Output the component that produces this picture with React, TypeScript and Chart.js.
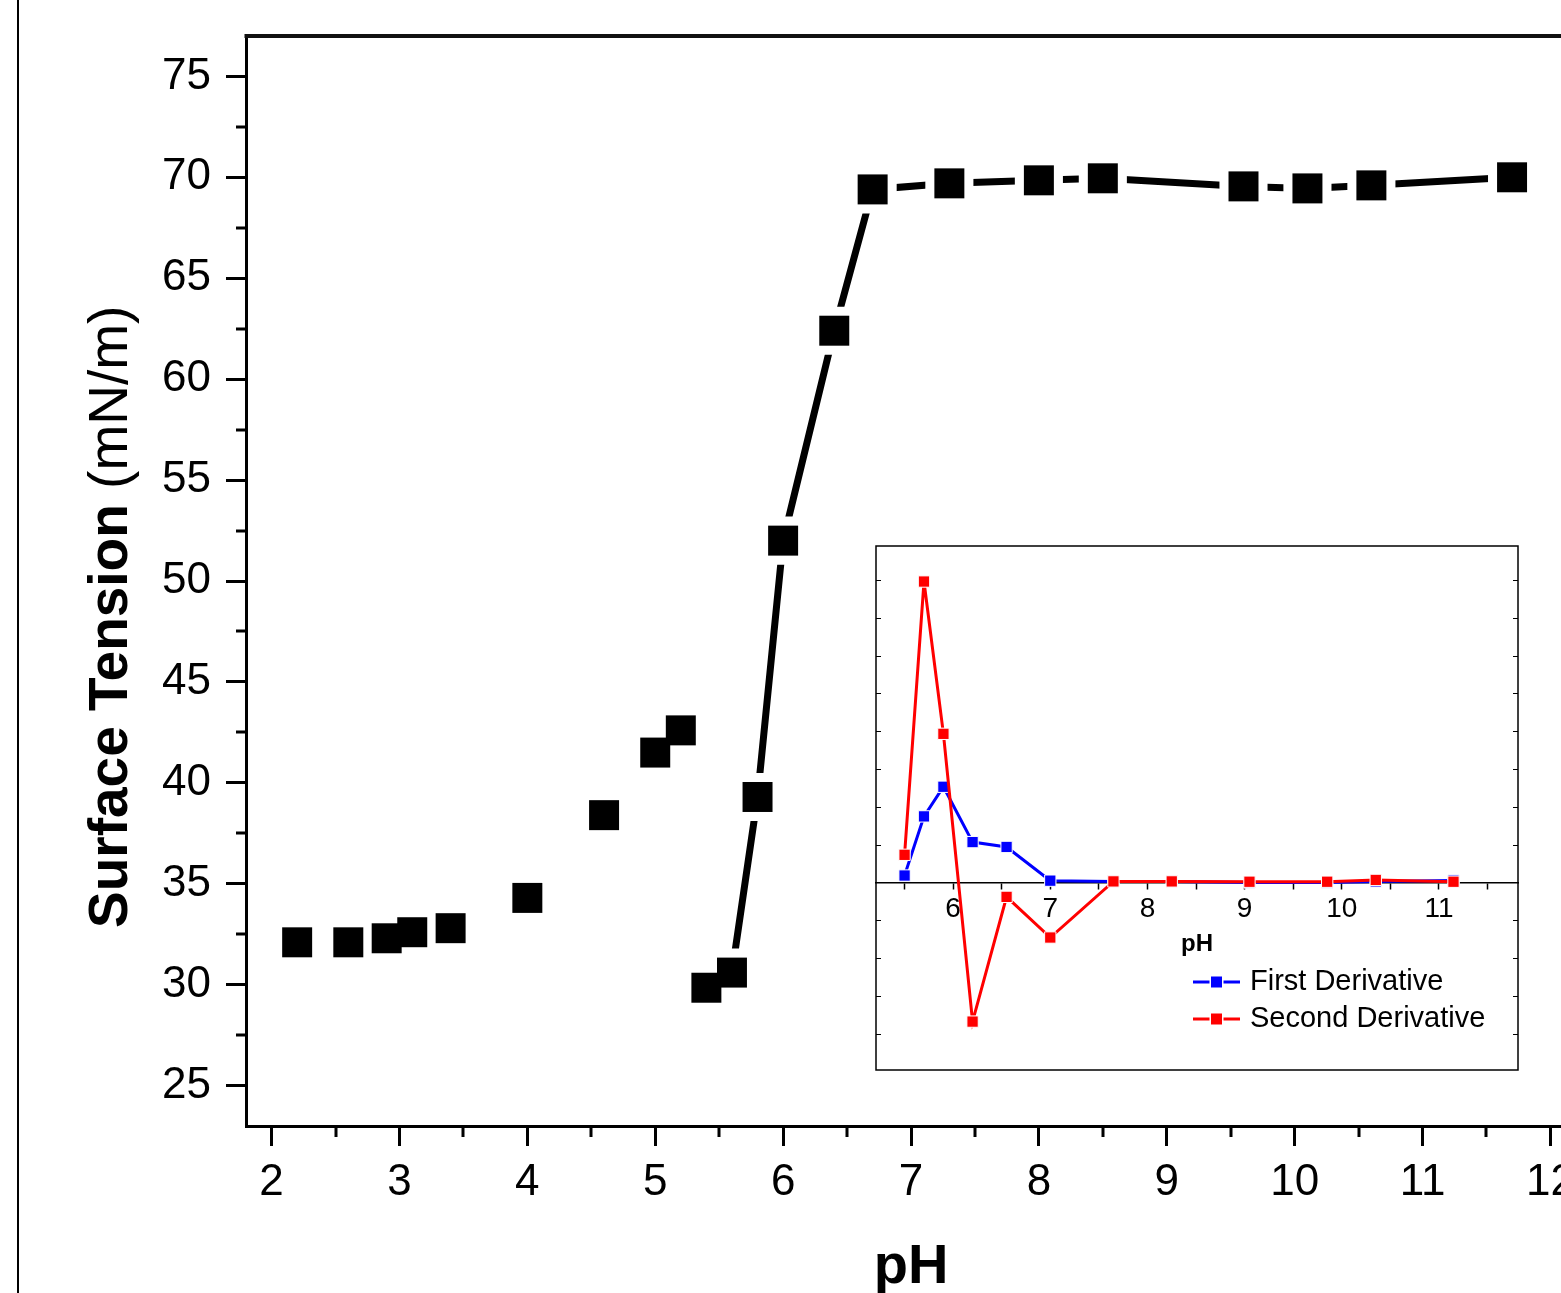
import React, { useEffect, useRef } from 'react';
import { Chart, registerables } from 'chart.js';

Chart.register(...registerables);

const FONT = "'Liberation Sans', Arial, Helvetica, sans-serif";

// ---- Main chart data ----
const phValues = [2.2, 2.6, 2.9, 3.1, 3.4, 4.0, 4.6, 5.0, 5.2, 5.4, 5.6, 5.8, 6.0, 6.4, 6.7, 7.3, 8.0, 8.5, 9.6, 10.1, 10.6, 11.7];
const surfaceTension = [32.1, 32.1, 32.3, 32.6, 32.8, 34.3, 38.4, 41.5, 42.6, 29.85, 30.6, 39.3, 52.0, 62.4, 69.4, 69.7, 69.85, 69.95, 69.55, 69.45, 69.6, 70.0];
const firstConnectedIndex = 10; // line drawn from pH 5.6 onward

const xMinorTicks = [2.5, 3.5, 4.5, 5.5, 6.5, 7.5, 8.5, 9.5, 10.5, 11.5];
const yMinorTicks = [27.5, 32.5, 37.5, 42.5, 47.5, 52.5, 57.5, 62.5, 67.5, 72.5];

const xAxisTitle = 'pH';
const yAxisTitleBold = 'Surface Tension';
const yAxisTitleUnit = ' (mN/m)';

// ---- Inset data ----
const derivPh = [5.5, 5.7, 5.9, 6.2, 6.55, 7.0, 7.65, 8.25, 9.05, 9.85, 10.35, 11.15];
const firstDerivative = [4.6, 43.7, 63.3, 26.7, 23.5, 1.2, 0.7, 0.7, 0.0, 0.0, 0.7, 1.3];
const secondDerivative = [18.3, 199, 98.3, -92, -9.5, -36.4, 0.7, 0.7, 0.5, 0.5, 1.7, 0.5];
const insetYTicks = [-100, -75, -50, -25, 0, 25, 50, 75, 100, 125, 150, 175, 200];

const zeroPadding = (s: any) => {
  s.paddingLeft = 0;
  s.paddingRight = 0;
  s.paddingTop = 0;
  s.paddingBottom = 0;
};

const mainDecor = {
  id: 'mainDecor',
  beforeDraw(chart: any) {
    const ctx = chart.ctx;
    ctx.save();
    ctx.fillStyle = '#fff';
    ctx.fillRect(0, 0, chart.width, chart.height);
    ctx.restore();
  },
  afterDraw(chart: any) {
    const ctx = chart.ctx;
    const area = chart.chartArea;
    const xs = chart.scales.x;
    const ys = chart.scales.y;
    ctx.save();
    ctx.strokeStyle = '#000';
    ctx.lineWidth = 3;
    ctx.beginPath();
    xMinorTicks.forEach((v) => {
      const px = Math.round(xs.getPixelForValue(v));
      ctx.moveTo(px, area.bottom);
      ctx.lineTo(px, area.bottom + 11);
    });
    yMinorTicks.forEach((v) => {
      const py = Math.round(ys.getPixelForValue(v));
      ctx.moveTo(area.left - 10, py);
      ctx.lineTo(area.left, py);
    });
    ctx.stroke();
    // top frame
    ctx.lineWidth = 4;
    ctx.strokeStyle = '#111';
    ctx.beginPath();
    ctx.moveTo(area.left - 1.5, area.top);
    ctx.lineTo(area.right, area.top);
    ctx.stroke();
    // right frame
    ctx.beginPath();
    ctx.moveTo(area.right, area.top);
    ctx.lineTo(area.right, area.bottom);
    ctx.stroke();
    // figure border at left
    ctx.lineWidth = 2;
    ctx.strokeStyle = '#000';
    ctx.beginPath();
    ctx.moveTo(18, 0);
    ctx.lineTo(18, chart.height);
    ctx.stroke();

    // x title
    ctx.fillStyle = '#000';
    ctx.font = `bold 56px ${FONT}`;
    ctx.textAlign = 'center';
    ctx.textBaseline = 'alphabetic';
    ctx.fillText(xAxisTitle, (area.left + area.right) / 2, 1283);

    // y title (rotated)
    ctx.translate(127, 928);
    ctx.rotate(-Math.PI / 2);
    ctx.textAlign = 'left';
    ctx.font = `bold 55px ${FONT}`;
    ctx.fillText(yAxisTitleBold, 0, 0);
    const w = ctx.measureText(yAxisTitleBold).width;
    ctx.font = `55px ${FONT}`;
    ctx.fillText(yAxisTitleUnit, w, 0);
    ctx.restore();
  },
};

const insetDecor = {
  id: 'insetDecor',
  beforeDraw(chart: any) {
    const ctx = chart.ctx;
    ctx.save();
    ctx.fillStyle = '#fff';
    ctx.fillRect(0, 0, chart.width, chart.height);
    ctx.restore();
  },
  afterDraw(chart: any) {
    const ctx = chart.ctx;
    const area = chart.chartArea;
    const ys = chart.scales.y;
    ctx.save();
    ctx.strokeStyle = '#000';
    ctx.lineWidth = 1.5;
    ctx.strokeRect(area.left, area.top, area.right - area.left, area.bottom - area.top);
    ctx.lineWidth = 1;
    ctx.beginPath();
    insetYTicks.forEach((v) => {
      const py = Math.round(ys.getPixelForValue(v)) + 0.5;
      ctx.moveTo(area.left, py);
      ctx.lineTo(area.left + 5, py);
      ctx.moveTo(area.right - 5, py);
      ctx.lineTo(area.right, py);
    });
    ctx.stroke();

    // legend
    const ds = chart.data.datasets;
    const order = [1, 0];
    order.forEach((idx, i) => {
      const d = ds[idx];
      const y = area.top + 436 + i * 37;
      const x0 = area.left + 317;
      const x1 = area.left + 364;
      ctx.strokeStyle = d.borderColor;
      ctx.lineWidth = 3;
      ctx.beginPath();
      ctx.moveTo(x0, y);
      ctx.lineTo(x1, y);
      ctx.stroke();
      const mx = (x0 + x1) / 2;
      ctx.fillStyle = '#fff';
      ctx.fillRect(mx - 7, y - 7, 14, 14);
      ctx.fillStyle = d.borderColor;
      ctx.fillRect(mx - 5.5, y - 5.5, 11, 11);
      ctx.fillStyle = '#000';
      ctx.font = `29px ${FONT}`;
      ctx.textAlign = 'left';
      ctx.textBaseline = 'middle';
      ctx.fillText(d.label, area.left + 374, y);
    });
    ctx.restore();
  },
};

export default function App() {
  const mainRef = useRef<HTMLCanvasElement>(null);
  const insetRef = useRef<HTMLCanvasElement>(null);

  useEffect(() => {
    const points = phValues.map((x, i) => ({ x, y: surfaceTension[i] }));
    const main = new Chart(mainRef.current as HTMLCanvasElement, {
      type: 'line',
      data: {
        datasets: [
          {
            label: 'Surface Tension',
            data: points,
            showLine: false,
            pointStyle: 'rect',
            pointRadius: 21.2,
            pointHoverRadius: 21.2,
            pointBackgroundColor: '#000',
            pointBorderWidth: 0,
            borderColor: '#000',
            backgroundColor: '#000',
          },
          {
            label: 'line',
            data: points,
            borderColor: '#000',
            borderWidth: 7,
            tension: 0,
            pointStyle: 'rect',
            pointRadius: (c: any) => (c.dataIndex < firstConnectedIndex ? 0 : 34),
            pointHoverRadius: (c: any) => (c.dataIndex < firstConnectedIndex ? 0 : 34),
            pointBackgroundColor: '#fff',
            pointBorderWidth: 0,
            segment: {
              borderColor: (c: any) => (c.p0DataIndex < firstConnectedIndex ? 'rgba(0,0,0,0)' : '#000'),
            },
          } as any,
        ],
      },
      options: {
        responsive: false,
        animation: false,
        devicePixelRatio: 1,
        events: [],
        layout: { autoPadding: false, padding: { top: 36, right: 24, left: 0, bottom: 0 } },
        plugins: { legend: { display: false }, tooltip: { enabled: false } },
        scales: {
          x: {
            type: 'linear',
            min: 1.8,
            max: 12.2,
            ticks: {
              stepSize: 1,
              includeBounds: false,
              autoSkip: false,
              maxRotation: 0,
              padding: 10,
              color: '#000',
              font: { family: FONT, size: 44 },
            },
            grid: { drawOnChartArea: false, drawTicks: true, tickLength: 20, tickWidth: 3, tickColor: '#000' },
            border: { display: true, color: '#000', width: 3 },
            afterFit: (s: any) => {
              s.height = 167;
              zeroPadding(s);
            },
          },
          y: {
            type: 'linear',
            min: 23,
            max: 77,
            ticks: {
              stepSize: 5,
              includeBounds: false,
              autoSkip: false,
              padding: 15,
              color: '#000',
              font: { family: FONT, size: 44 },
            },
            grid: { drawOnChartArea: false, drawTicks: true, tickLength: 20, tickWidth: 3, tickColor: '#000' },
            border: { display: true, color: '#000', width: 3 },
            afterFit: (s: any) => {
              s.width = 246;
              zeroPadding(s);
            },
          },
        },
      } as any,
      plugins: [mainDecor],
    });

    const inset = new Chart(insetRef.current as HTMLCanvasElement, {
      type: 'line',
      data: {
        datasets: [
          {
            label: 'Second Derivative',
            data: derivPh.map((x, i) => ({ x, y: secondDerivative[i] })),
            borderColor: '#ff0000',
            backgroundColor: '#ff0000',
            borderWidth: 3,
            tension: 0,
            pointStyle: 'rect',
            pointRadius: 8,
            pointBackgroundColor: '#ff0000',
            pointBorderColor: '#fff',
            pointBorderWidth: 1,
          },
          {
            label: 'First Derivative',
            data: derivPh.map((x, i) => ({ x, y: firstDerivative[i] })),
            borderColor: '#0000ff',
            backgroundColor: '#0000ff',
            borderWidth: 3,
            tension: 0,
            pointStyle: 'rect',
            pointRadius: 8,
            pointBackgroundColor: '#0000ff',
            pointBorderColor: '#fff',
            pointBorderWidth: 1,
          },
        ],
      },
      options: {
        responsive: false,
        animation: false,
        devicePixelRatio: 1,
        events: [],
        layout: { autoPadding: false, padding: 2 },
        plugins: { legend: { display: false }, tooltip: { enabled: false } },
        scales: {
          x: {
            type: 'linear',
            position: { y: 0 },
            min: 5.206,
            max: 11.814,
            ticks: {
              stepSize: 0.5,
              includeBounds: false,
              autoSkip: false,
              maxRotation: 0,
              padding: 4,
              color: '#000',
              font: { family: FONT, size: 28 },
              callback: (v: any) => (Number.isInteger(v) ? String(v) : ''),
            },
            grid: { drawOnChartArea: false, drawTicks: true, tickLength: 6, tickWidth: 1.5, tickColor: '#000' },
            border: { display: true, color: '#000', width: 1.5 },
            title: {
              display: true,
              text: 'pH',
              color: '#000',
              font: { family: FONT, size: 24, weight: 'bold' },
              padding: 0,
            },
            afterFit: zeroPadding,
          },
          y: {
            type: 'linear',
            min: -124,
            max: 222.5,
            display: false,
            afterFit: zeroPadding,
          },
        },
      } as any,
      plugins: [insetDecor],
    });

    return () => {
      main.destroy();
      inset.destroy();
    };
  }, []);

  return (
    <div
      style={{
        position: 'fixed',
        left: 0,
        top: 0,
        width: 1561,
        height: 1293,
        overflow: 'hidden',
        background: '#fff',
      }}
    >
      <canvas
        ref={mainRef}
        width={1600}
        height={1293}
        style={{ position: 'absolute', left: 0, top: 0, width: 1600, height: 1293 }}
      />
      <canvas
        ref={insetRef}
        width={646}
        height={528}
        style={{ position: 'absolute', left: 874, top: 544, width: 646, height: 528 }}
      />
    </div>
  );
}
